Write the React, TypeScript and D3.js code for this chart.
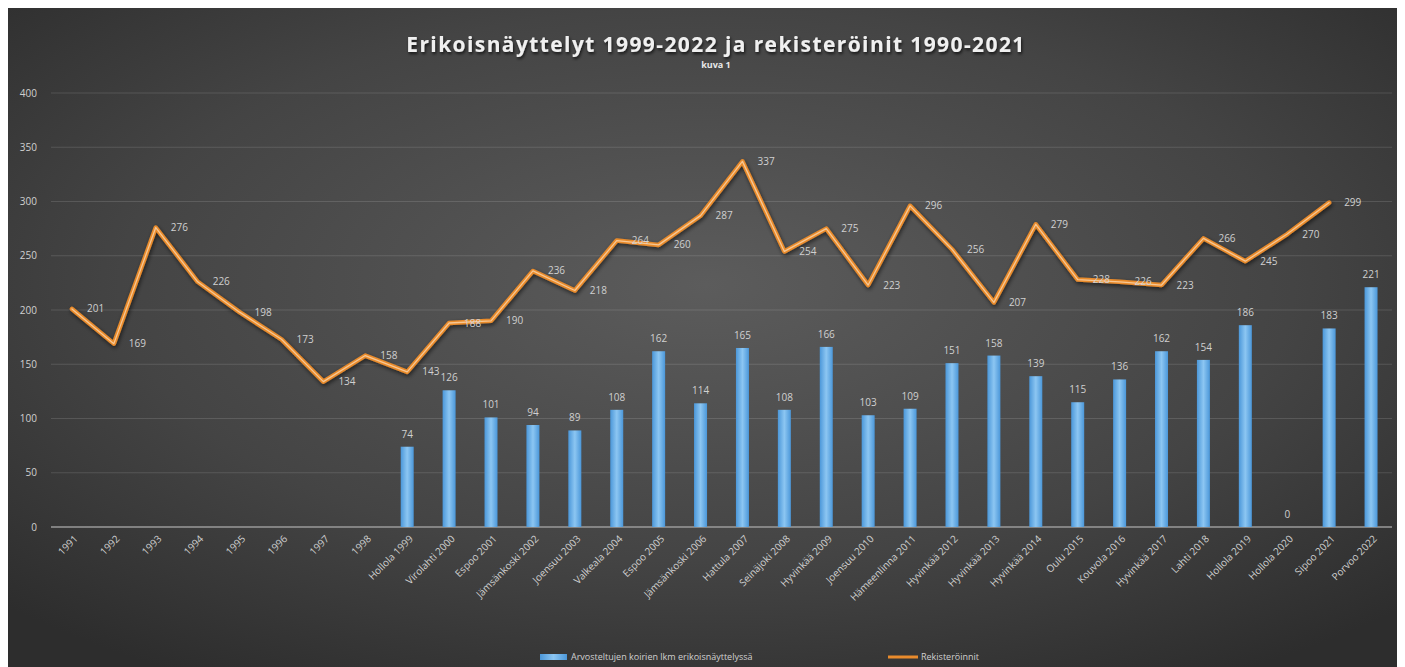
import React from 'react';
import * as d3 from 'd3';

const categories = [
  '1991', '1992', '1993', '1994', '1995', '1996', '1997', '1998',
  'Hollola 1999', 'Virolahti 2000', 'Espoo 2001', 'Jämsänkoski 2002', 'Joensuu 2003',
  'Valkeala 2004', 'Espoo 2005', 'Jämsänkoski 2006', 'Hattula 2007', 'Seinäjoki 2008',
  'Hyvinkää 2009', 'Joensuu 2010', 'Hämeenlinna 2011', 'Hyvinkää 2012', 'Hyvinkää 2013',
  'Hyvinkää 2014', 'Oulu 2015', 'Kouvola 2016', 'Hyvinkää 2017', 'Lahti 2018',
  'Hollola 2019', 'Hollola 2020', 'Sipoo 2021', 'Porvoo 2022',
];

// arvosteltujen koirien lkm (alkaa Hollola 1999)
const showCategories = categories.slice(8);
const dogCounts = [74, 126, 101, 94, 89, 108, 162, 114, 165, 108, 166, 103, 109, 151, 158, 139, 115, 136, 162, 154, 186, 0, 183, 221];

// rekisteröinnit (31 pistettä, päättyy Sipoo 2021)
const registrations = [201, 169, 276, 226, 198, 173, 134, 158, 143, 188, 190, 236, 218, 264, 260, 287, 337, 254, 275, 223, 296, 256, 207, 279, 228, 226, 223, 266, 245, 270, 299];

const yTicks = [0, 50, 100, 150, 200, 250, 300, 350, 400];

const W = 1397;
const H = 659;
const OFF = 8; // body margin, coordinates below are page coordinates
const plot = { left: 51, right: 1392, top: 93, bottom: 527 };

const labelFill = '#d0d0d0';
const font = '"Open Sans", "DejaVu Sans", sans-serif';

export default function App() {
  const x = d3.scaleBand<string>().domain(categories).range([plot.left, plot.right]).paddingInner(0);
  const cx = (c: string) => (x(c) ?? 0) + x.bandwidth() / 2;
  const y = d3.scaleLinear().domain([0, 400]).range([plot.bottom, plot.top]);
  const barW = 13;

  const linePts: [number, number][] = registrations.map((v, i) => [cx(categories[i]), y(v)]);
  const line = d3.line().curve(d3.curveLinear)(linePts) ?? '';

  return (
    <svg width={W} height={H} style={{ display: 'block' }} fontFamily={font}>
      <defs>
        <radialGradient id="bg" cx="50%" cy="42%" r="70%">
          <stop offset="0%" stopColor="#5c5c5c" />
          <stop offset="60%" stopColor="#444444" />
          <stop offset="100%" stopColor="#2d2d2d" />
        </radialGradient>
        <linearGradient id="bar" x1="0" x2="1" y1="0" y2="0">
          <stop offset="0%" stopColor="#4b97d9" />
          <stop offset="50%" stopColor="#8cc6f2" />
          <stop offset="100%" stopColor="#4b97d9" />
        </linearGradient>
        <filter id="shadow" x="-5%" y="-20%" width="110%" height="140%">
          <feGaussianBlur in="SourceAlpha" stdDeviation="2" />
          <feOffset dx="1" dy="2" result="b" />
          <feComponentTransfer><feFuncA type="linear" slope="0.6" /></feComponentTransfer>
          <feMerge><feMergeNode /><feMergeNode in="SourceGraphic" /></feMerge>
        </filter>
        <filter id="tshadow" x="-5%" y="-30%" width="110%" height="160%">
          <feDropShadow dx="1" dy="2" stdDeviation="1.5" floodColor="#000" floodOpacity="0.7" />
        </filter>
      </defs>
      <rect x={0} y={0} width={W} height={H} fill="url(#bg)" />
      <g transform={`translate(${-OFF},${-OFF})`}>
        <text x={716} y={52} textAnchor="middle" fill="#f0f0f0" fontSize={21} fontWeight={700}
          letterSpacing={1.4} filter="url(#tshadow)">
          Erikoisnäyttelyt 1999-2022 ja rekisteröinit 1990-2021
        </text>
        <text x={716} y={68} textAnchor="middle" fill="#e8e8e8" fontSize={9} fontWeight={700}>kuva 1</text>

        {yTicks.map(t => (
          <g key={t}>
            {t > 0 && (
              <line x1={plot.left} x2={plot.right} y1={y(t)} y2={y(t)} stroke="#ffffff" strokeOpacity={0.13} />
            )}
            <text x={37} y={y(t)} dy="0.35em" textAnchor="end" fill={labelFill} fontSize={10}>{t}</text>
          </g>
        ))}
        <line x1={plot.left} x2={plot.right} y1={y(0)} y2={y(0)} stroke="#9a9a9a" strokeWidth={1.5} />

        {categories.map(c => (
          <text key={c} transform={`translate(${cx(c) + 4},${plot.bottom + 10}) rotate(-45)`}
            textAnchor="end" dy="0.35em" fill={labelFill} fontSize={10}>{c}</text>
        ))}

        {showCategories.map((c, i) => (
          <g key={c}>
            <rect x={cx(c) - barW / 2} y={y(dogCounts[i])} width={barW}
              height={plot.bottom - y(dogCounts[i])} fill="url(#bar)" />
            <text x={cx(c)} y={y(dogCounts[i]) - 9} textAnchor="middle" fill={labelFill} fontSize={10}>
              {dogCounts[i]}
            </text>
          </g>
        ))}

        <g filter="url(#shadow)">
          <path d={line} fill="none" stroke="#e98b2c" strokeWidth={4.5} strokeLinejoin="round" strokeLinecap="round" />
          <path d={line} fill="none" stroke="#f7c793" strokeWidth={1.3} strokeLinejoin="round" strokeLinecap="round" />
        </g>
        {registrations.map((v, i) => (
          <text key={i} x={cx(categories[i]) + 15} y={y(v)} dy="0.35em" fill={labelFill} fontSize={10}>{v}</text>
        ))}

        <rect x={540} y={654} width={27} height={6} fill="url(#bar)" />
        <text x={571} y={657} dy="0.35em" fill={labelFill} fontSize={9}>Arvosteltujen koirien lkm erikoisnäyttelyssä</text>
        <line x1={888} x2={918} y1={657} y2={657} stroke="#e98b2c" strokeWidth={3} />
        <text x={921} y={657} dy="0.35em" fill={labelFill} fontSize={9}>Rekisteröinnit</text>
      </g>
    </svg>
  );
}
